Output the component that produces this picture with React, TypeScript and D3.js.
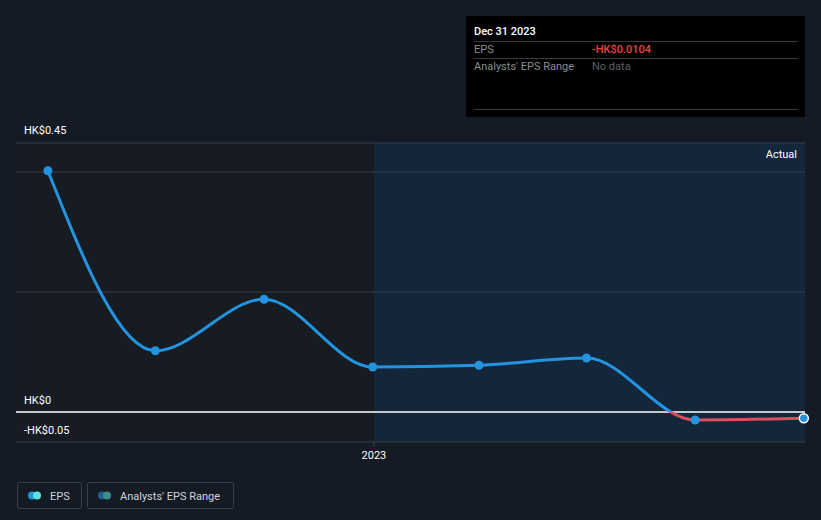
import React from "react";
import * as d3 from "d3";

// EPS trailing values (HK$) at quarter ends
const dates = [
  "2022-03-31",
  "2022-06-30",
  "2022-09-30",
  "2022-12-31",
  "2023-03-31",
  "2023-06-30",
  "2023-09-30",
  "2023-12-31",
];
const epsValues = [0.402, 0.102, 0.188, 0.075, 0.078, 0.09, -0.0133, -0.0104];
const yTicks = [0.45, 0, -0.05];
const yTickLabels = ["HK$0.45", "HK$0", "-HK$0.05"];
const gridValues = [0.4, 0.2, -0.05];

const App: React.FC = () => {
  const width = 821;
  const height = 520;
  const plot = { left: 16, right: 805, top: 143, bottom: 442 };

  const parse = d3.timeParse("%Y-%m-%d");
  const data = dates.map((d, i) => ({ date: parse(d) as Date, value: epsValues[i] }));

  const x = d3
    .scaleTime()
    .domain([new Date(2022, 2, 4), new Date(2024, 0, 1)])
    .range([plot.left, plot.right]);

  const y = d3.scaleLinear().domain([-0.05, 0.45]).range([plot.bottom, plot.top - 1]);

  const line = d3
    .line<{ date: Date; value: number }>()
    .x((d) => x(d.date))
    .y((d) => y(d.value))
    .curve(d3.curveMonotoneX);

  const path = line(data) ?? "";
  const zeroY = y(0);
  const actualStart = x(new Date(2023, 0, 1));
  const last = data[data.length - 1];

  return (
    <svg
      width={width}
      height={height}
      style={{ position: "absolute", left: 0, top: 0, background: "#151b25", fontFamily: "Roboto, sans-serif" }}
    >
      <defs>
        <clipPath id="above">
          <rect x={0} y={0} width={width} height={zeroY} />
        </clipPath>
        <clipPath id="below">
          <rect x={0} y={zeroY} width={width} height={height - zeroY} />
        </clipPath>
      </defs>

      {/* past area */}
      <rect x={plot.left} y={plot.top} width={actualStart - plot.left} height={plot.bottom - plot.top} fill="#171b22" />
      {/* actual area */}
      <rect x={actualStart} y={plot.top} width={plot.right - actualStart} height={plot.bottom - plot.top} fill="#13263a" />
      <line x1={actualStart} x2={plot.right} y1={plot.top} y2={plot.top} stroke="#2c3f55" />
      <text x={797} y={158} textAnchor="end" fill="#ffffff" fontSize={11}>
        Actual
      </text>

      {/* grid */}
      <line x1={plot.left} x2={actualStart} y1={plot.top} y2={plot.top} stroke="#3a3f47" />
      {gridValues.map((v, i) => (
        <line key={i} x1={plot.left} x2={plot.right} y1={y(v)} y2={y(v)} stroke="#363c46" strokeWidth={1} />
      ))}
      <line x1={plot.left} x2={plot.right} y1={zeroY} y2={zeroY} stroke="#ffffff" strokeWidth={1.4} />

      {/* y labels */}
      {yTicks.map((t, i) => (
        <text key={i} x={24} y={y(t) - 8} fill="#ffffff" fontSize={11}>
          {yTickLabels[i]}
        </text>
      ))}

      {/* x axis */}
      <line x1={actualStart} x2={actualStart} y1={plot.bottom} y2={plot.bottom + 5} stroke="#3a4452" />
      <text x={actualStart} y={459} textAnchor="middle" fill="#ffffff" fontSize={11}>
        2023
      </text>

      {/* line */}
      <path d={path} fill="none" stroke="#2394df" strokeWidth={3} clipPath="url(#above)" />
      <path d={path} fill="none" stroke="#d9505a" strokeWidth={3} clipPath="url(#below)" />
      {data.slice(0, -1).map((d, i) => (
        <circle key={i} cx={x(d.date)} cy={y(d.value)} r={4.5} fill="#2394df" />
      ))}
      <circle cx={x(last.date)} cy={y(last.value)} r={4.5} fill="#2394df" stroke="#ffffff" strokeWidth={1.5} />

      {/* tooltip */}
      <g>
        <rect x={466} y={16} width={339} height={101} fill="#000000" />
        <text x={474} y={35} fill="#ffffff" fontSize={11} fontWeight={500}>
          Dec 31 2023
        </text>
        <line x1={474} x2={798} y1={41.5} y2={41.5} stroke="#3a3a3a" />
        <text x={474} y={53} fill="#8a8d92" fontSize={11}>
          EPS
        </text>
        <text x={592} y={53} fill="#e84545" fontSize={11} fontWeight={500}>
          -HK$0.0104
        </text>
        <line x1={474} x2={798} y1={58.5} y2={58.5} stroke="#3a3a3a" />
        <text x={474} y={70} fill="#8a8d92" fontSize={11}>
          Analysts' EPS Range
        </text>
        <text x={592} y={70} fill="#5d6066" fontSize={11}>
          No data
        </text>
        <line x1={474} x2={798} y1={109.5} y2={109.5} stroke="#3a3a3a" />
      </g>

      {/* legend */}
      <g>
        <rect x={17.5} y={482.5} width={64} height={26} rx={2} fill="none" stroke="#3a404a" />
        <circle cx={32} cy={495.5} r={4} fill="#2394df" />
        <circle cx={37} cy={495.5} r={4} fill="#5ce1e0" />
        <text x={50} y={499.5} fill="#d0d2d6" fontSize={11}>
          EPS
        </text>
        <rect x={87.5} y={482.5} width={146} height={26} rx={2} fill="none" stroke="#3a404a" />
        <circle cx={102} cy={495.5} r={4} fill="#1d5f8e" />
        <circle cx={107} cy={495.5} r={4} fill="#3d8d8a" />
        <text x={120} y={499.5} fill="#d0d2d6" fontSize={11}>
          Analysts' EPS Range
        </text>
      </g>
    </svg>
  );
};

export default App;
